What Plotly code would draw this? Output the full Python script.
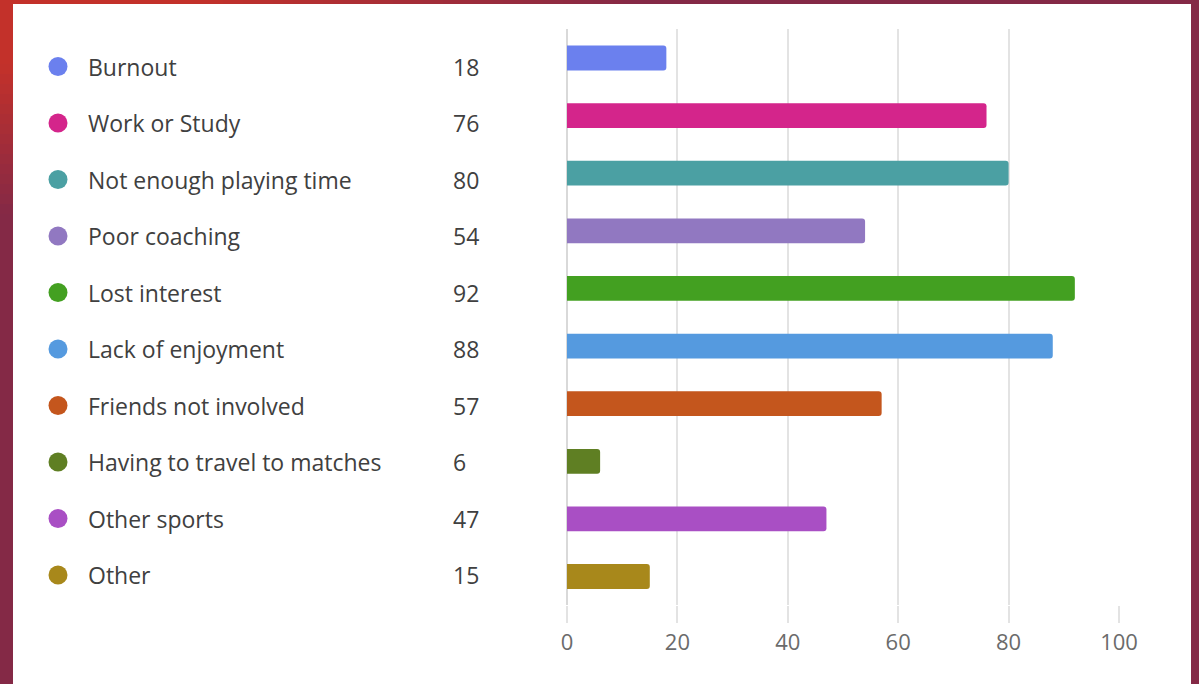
import numpy as np
import plotly.graph_objects as go

# Survey responses: reasons for leaving the sport
reasons = [
    "Burnout",
    "Work or Study",
    "Not enough playing time",
    "Poor coaching",
    "Lost interest",
    "Lack of enjoyment",
    "Friends not involved",
    "Having to travel to matches",
    "Other sports",
    "Other",
]
counts = [18, 76, 80, 54, 92, 88, 57, 6, 47, 15]
colors = [
    "#6b80ee", "#d4258b", "#4ba0a3", "#9178c1", "#43a021",
    "#559adf", "#c4561d", "#5f7f23", "#a94fc4", "#a8881b",
]
x_ticks = [0, 20, 40, 60, 80, 100]

W, H = 1199, 684
FONT = "Segoe UI, Open Sans, Noto Sans, sans-serif"
TEXT_COLOR = "#404040"
GRID = "#e3e3e3"

fig = go.Figure()

# --- Gradient frame around the white card (background axes x2/y2 in pixel units) ---
panel_l, panel_r, panel_t = 13, 1191, 4
x_edges = np.concatenate([[0, panel_l], np.arange(23, panel_r, 10), [panel_r, W]])
y_edges = np.concatenate([[0, panel_t], np.arange(14, H, 10), [H]])
xc = (x_edges[:-1] + x_edges[1:]) / 2
yc = (y_edges[:-1] + y_edges[1:]) / 2
XX, YY = np.meshgrid(xc, yc)
shade = np.clip((XX + 3 * YY - 200) / 450, 0, 1)
inside = (XX > panel_l) & (XX < panel_r) & (YY > panel_t)
shade = np.where(inside, np.nan, shade)
fig.add_trace(go.Heatmap(
    x=x_edges, y=y_edges, z=shade, xaxis="x2", yaxis="y2",
    colorscale=[[0, "#c3312a"], [1, "#842946"]], zmin=0, zmax=1,
    showscale=False, hoverinfo="skip",
))

# --- Horizontal bars ---
fig.add_trace(go.Bar(
    x=counts, y=reasons, orientation="h",
    marker=dict(color=colors, line=dict(width=0)),
    width=0.43, hoverinfo="x+y",
))

# --- Legend-like list on the left (own category axis y3) ---
fig.add_trace(go.Scatter(
    x=[58] * len(reasons), y=reasons, xaxis="x3", yaxis="y3",
    mode="markers", marker=dict(size=19, color=colors),
    hoverinfo="skip",
))

annotations = []
for name, val in zip(reasons, counts):
    annotations.append(dict(
        x=86, y=name, xref="x3", yref="y3", text=name, showarrow=False,
        xanchor="left", yanchor="middle",
        font=dict(family=FONT, size=23, color=TEXT_COLOR),
    ))
    annotations.append(dict(
        x=451, y=name, xref="x3", yref="y3", text=str(val), showarrow=False,
        xanchor="left", yanchor="middle",
        font=dict(family=FONT, size=23, color=TEXT_COLOR),
    ))

fig.update_layout(
    width=W, height=H,
    autosize=False,
    margin=dict(l=0, r=0, t=0, b=0, pad=0, autoexpand=False),
    paper_bgcolor="white",
    plot_bgcolor="rgba(0,0,0,0)",
    showlegend=False,
    barcornerradius=3,
    annotations=annotations,
    xaxis=dict(
        domain=[567 / W, 1119 / W], range=[0, 100], automargin=False,
        tickvals=x_ticks, showgrid=True, gridcolor=GRID, gridwidth=1.5,
        zeroline=True, zerolinecolor="#d9d9d9", zerolinewidth=1.5,
        ticks="outside", ticklen=17, tickcolor=GRID, tickwidth=1.5,
        showline=False, fixedrange=True,
        tickfont=dict(family=FONT, size=22, color="#6b6b6b"),
    ),
    yaxis=dict(
        domain=[1 - 605.3 / H, 1 - 29.2 / H], automargin=False,
        type="category", categoryorder="array", categoryarray=reasons,
        range=[9.5, -0.5], showticklabels=False, showgrid=False,
        zeroline=False, showline=False, ticks="", fixedrange=True,
    ),
    xaxis2=dict(
        domain=[0, 1], range=[0, W], visible=False, anchor="y2",
        fixedrange=True, automargin=False,
    ),
    yaxis2=dict(
        domain=[0, 1], range=[H, 0], visible=False, anchor="x2",
        fixedrange=True, automargin=False,
    ),
    xaxis3=dict(
        domain=[0, 540 / W], range=[0, 540], visible=False, anchor="y3",
        fixedrange=True, automargin=False,
    ),
    yaxis3=dict(
        domain=[1 - 603.25 / H, 1 - 38.25 / H], automargin=False,
        type="category", categoryorder="array", categoryarray=reasons,
        range=[9.5, -0.5], visible=False, anchor="x3", fixedrange=True,
    ),
)

fig.write_html(
    "out.html",
    config={"responsive": False},
    post_script="document.body.style.margin='0';document.body.style.overflow='hidden';",
)
